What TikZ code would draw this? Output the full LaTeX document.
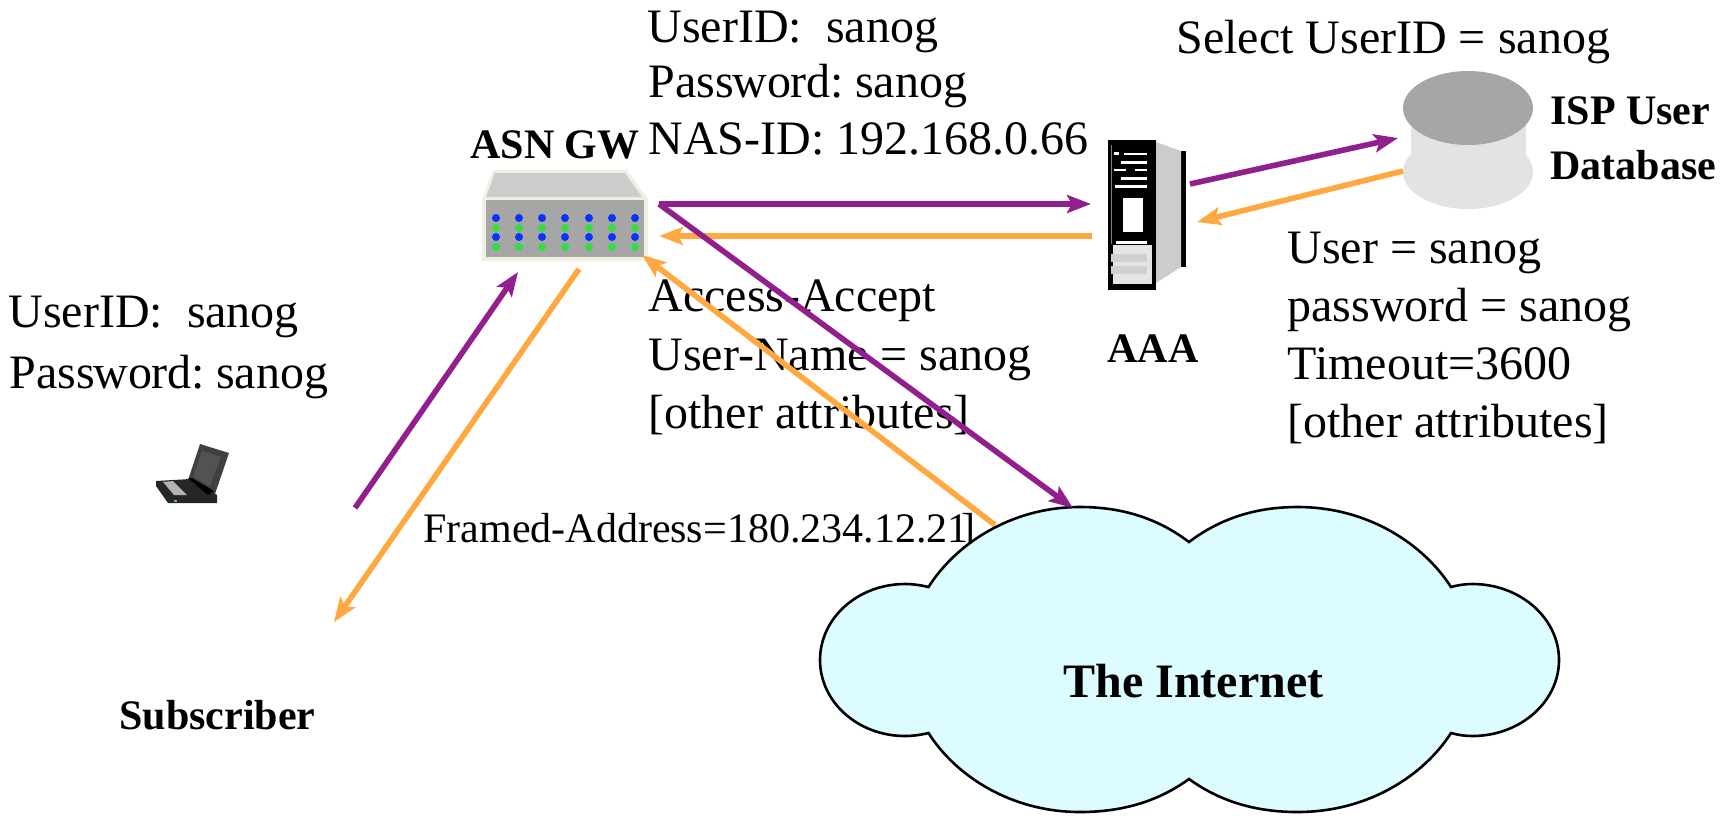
\documentclass[tikz,border=0pt]{standalone}
\usepackage{fontspec}
\setmainfont{Liberation Serif}
\usetikzlibrary{arrows.meta}
\definecolor{pur}{HTML}{91208E}
\definecolor{org}{HTML}{FFA83F}
\definecolor{cloudfill}{HTML}{DDFCFF}
\definecolor{swedge}{HTML}{EFEFE2}
\definecolor{dotblue}{HTML}{0A32FF}
\definecolor{dotgreen}{HTML}{33DD44}
\tikzset{
  lbl/.style={anchor=base west,inner sep=0pt,font=\fontsize{24}{28}\selectfont},
  blbl/.style={anchor=base west,inner sep=0pt,font=\fontsize{21}{25}\selectfont\bfseries},
  slbl/.style={anchor=base west,inner sep=0pt,font=\fontsize{21}{25}\selectfont},
  link/.style={line width=2.8pt,-{Stealth[length=12pt,width=9pt,inset=2.5pt]}},
  up/.style={link,draw=pur},
  down/.style={link,draw=org},
  blueled/.style={fill=dotblue,draw=none},
  greenled/.style={fill=dotgreen,draw=none},
}
\begin{document}
\begin{tikzpicture}[x=0.5pt,y=-0.5pt]
\useasboundingbox (0,0) rectangle (1722,816);
% connector end points
\coordinate (subA) at (355,508);
\coordinate (swA) at (518,272);
\coordinate (swB) at (579,269);
\coordinate (subB) at (334,622);
\coordinate (swC) at (659,204);
\coordinate (aaaA) at (1091,204);
\coordinate (aaaB) at (1092,236);
\coordinate (swD) at (659,236);
\coordinate (netA) at (1073,508);
\coordinate (netB) at (995,525);
\coordinate (swE) at (642,255);
\coordinate (aaaC) at (1190,184);
\coordinate (dbA) at (1398,138);
\coordinate (dbB) at (1403,171);
\coordinate (aaaD) at (1197,222);
% texts
\node[lbl] (t1) at (647,42) {UserID:\ \ sanog};
\node[lbl] (t2) at (648,97) {Pass\kern-.4pt wo\kern-.4pt rd:\kern-.5pt\ sanog};
\node[lbl] (t3) at (648,154) {NAS-ID: 192.168.0.66};
\node[lbl] (t4) at (1176,53) {Select UserID = sanog};
\node[blbl] (isp1) at (1550,124) {ISP User};
\node[blbl] (isp2) at (1550,179) {Database};
\node[blbl] (asn) at (470,158) {ASN GW};
\node[lbl] (t5) at (1287,263) {User = sanog};
\node[lbl] (t6) at (1287,321) {password = sanog};
\node[lbl] (t7) at (1287,379) {Timeout=3600};
\node[lbl] (t8) at (1287,437) {[other attributes]};
\node[lbl] (t9) at (648,311) {Access-Accept};
\node[lbl] (t10) at (648,370) {User-Name = sanog};
\node[lbl] (t11) at (648,428) {[other attributes]};
\node[lbl] (t12) at (8,327) {UserID:\ \ sanog};
\node[lbl] (t13) at (9,388) {Pass\kern-.4pt wo\kern-.4pt rd:\kern-.5pt\ sanog};
\node[blbl] (aaa) at (1107,362) {AAA};
\node[blbl] (subs) at (119,729) {Subscriber};
\node[slbl] (fr) at (423,542) {Framed-Address=180.234.12.21\kern-3.5pt]};
% switch
\fill[swedge] (493,170) -- (627,170) -- (648,199) -- (648,261) -- (482,261) -- (482,199) -- cycle;
\fill[black!20] (495,173) -- (625,173) -- (642,197) -- (486,197) -- cycle;
\fill[black!35] (486,200) rectangle (644,257);
\foreach \x in {496,519,542,565,589,612,635}{
  \fill[blueled] (\x,218) circle[radius=4];
  \fill[greenled] (\x,228) circle[radius=4];
  \fill[blueled] (\x,237) circle[radius=4];
  \fill[greenled] (\x,247) circle[radius=4];
}
% server
\fill[black] (1181,151) rectangle (1186,267);
\fill[black!20] (1156,142) -- (1181,151) -- (1181,267) -- (1156,283) -- cycle;
\fill[black] (1108,140) rectangle (1156,290);
\fill[white] (1124,152.5) rectangle (1147,155);
\fill[white] (1121,161) rectangle (1147,163.5);
\fill[white] (1114,168.5) rectangle (1126,171);
\fill[white] (1135,168.5) rectangle (1147,171);
\fill[white] (1121,177) rectangle (1147,179.5);
\fill[white] (1115,185) rectangle (1147,187.5);
\fill[white] (1114,152) rectangle (1119,155);
\fill[black!50] (1111,145) rectangle (1111.8,244);
\fill[white] (1123,198) rectangle (1143,232);
\fill[white] (1116,241) rectangle (1147,244);
\fill[black!10] (1113,245) rectangle (1152,284);
\fill[black!18] (1111,254) rectangle (1147,262);
\fill[black!18] (1111,266) rectangle (1147,274);
% database
\fill[black!11] (1468,172) ellipse[x radius=65,y radius=37];
\fill[black!11] (1411,108) rectangle (1526,165);
\fill[black!35] (1468,108) ellipse[x radius=65,y radius=37];
% laptop
\fill[black!75] (200,444) -- (229,453) -- (214,497) -- (188,480) -- cycle;
\fill[black!68] (202,451) -- (221,457) -- (210,486) -- (193,477) -- cycle;
\fill[black!85] (156,481) -- (190,479) -- (217,495) -- (217,503) -- (168,503) -- (156,486) -- cycle;
\fill[black!30] (163,482) -- (173,481) -- (187,495) -- (174,495) -- cycle;
\fill[black] (188,478) -- (192,478) -- (214,491) -- (208,495) -- cycle;
\fill[dotgreen] (174,500) rectangle (177,502);
% connectors
\draw[up] (subA) -- (swA);
\draw[down] (swB) -- (subB);
\draw[up] (swC) -- (aaaA);
\draw[down] (aaaB) -- (swD);
\draw[down] (netB) -- (swE);
\draw[up] (aaaC) -- (dbA);
\draw[down] (dbB) -- (aaaD);
% cloud
\draw[fill=cloudfill,line width=1.3pt] (1080,507)
  .. controls (1125,507) and (1160,520) .. (1189,542)
  .. controls (1218,520) and (1253,507) .. (1297.5,507)
  .. controls (1369,507) and (1424,545) .. (1451,587)
  .. controls (1458,585) and (1465,584) .. (1472.5,584)
  .. controls (1520,584) and (1559,618) .. (1559,660)
  .. controls (1559,702) and (1520,736) .. (1472.5,736)
  .. controls (1465,736) and (1458,735) .. (1451,733)
  .. controls (1424,775) and (1369,812) .. (1297.5,812)
  .. controls (1253,812) and (1218,800) .. (1189,779)
  .. controls (1160,800) and (1125,812) .. (1080,812)
  .. controls (1010,812) and (955,775) .. (928.5,733)
  .. controls (920,735) and (913,736) .. (905,736)
  .. controls (858,736) and (820,702) .. (820,660)
  .. controls (820,618) and (858,584) .. (905,584)
  .. controls (913,584) and (920,585) .. (928.5,587)
  .. controls (955,545) and (1010,507) .. (1080,507) -- cycle;
\node[lbl,font=\fontsize{24}{28}\selectfont\bfseries] (net) at (1063,697) {The Internet};
\draw[up] (swC) -- (netA);
\end{tikzpicture}
\end{document}
